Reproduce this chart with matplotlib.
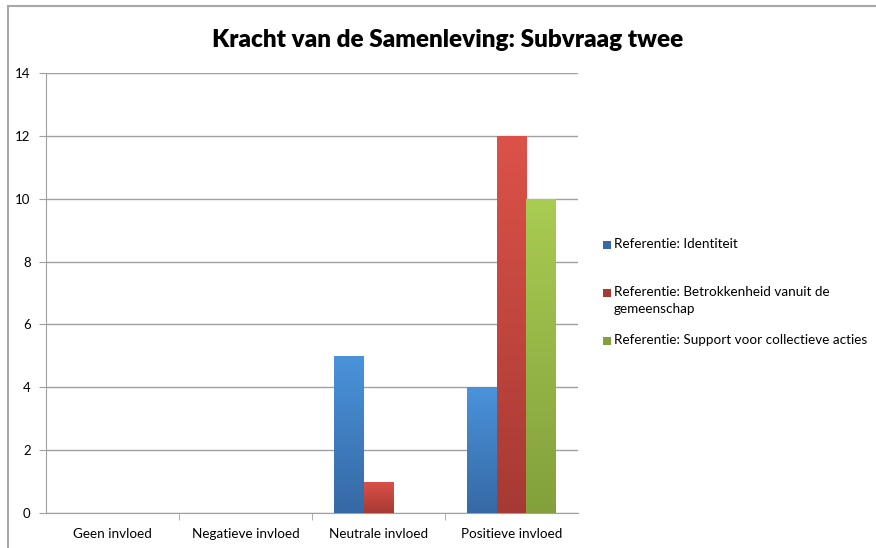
import matplotlib
matplotlib.use("Agg")
import matplotlib.pyplot as plt
import matplotlib.patches as patches
from matplotlib.colors import LinearSegmentedColormap
from matplotlib.lines import Line2D
import numpy as np

title = "Kracht van de Samenleving: Subvraag twee"
categories = ["Geen invloed", "Negatieve invloed", "Neutrale invloed", "Positieve invloed"]
series_names = ["Referentie: Identiteit",
                "Referentie: Betrokkenheid vanuit de\ngemeenschap",
                "Referentie: Support voor collectieve acties"]
identiteit = [0, 0, 5, 4]
betrokkenheid = [0, 0, 1, 12]
support = [0, 0, 0, 10]
yticks = [0, 2, 4, 6, 8, 10, 12, 14]

# gradient (top colour, bottom colour) per series
grads = [("#4a93db", "#3669a5"), ("#dc5249", "#a63a33"), ("#a9cc52", "#83a03c")]

plt.rcParams['font.family'] = ['Lato', 'DejaVu Sans']

fig = plt.figure(figsize=(8.76, 5.48), dpi=100)
ax = fig.add_axes([46/876, 1 - 513/548, 532/876, 440/548])

W = 0.225
vals = [identiteit, betrokkenheid, support]
x = np.arange(len(categories))
for i, (v, (ctop, cbot)) in enumerate(zip(vals, grads)):
    cmap = LinearSegmentedColormap.from_list("g%d" % i, [cbot, ctop])
    for xi, h in zip(x, v):
        if h <= 0:
            continue
        left = xi + (i - 1) * W - W / 2
        rect = patches.Rectangle((left, 0), W, h, facecolor="none", edgecolor="none")
        ax.add_patch(rect)
        grad = np.linspace(0, 1, 256).reshape(-1, 1)
        im = ax.imshow(grad, cmap=cmap, origin="lower", aspect="auto",
                       extent=[left, left + W, 0, h], zorder=3)
        im.set_clip_path(rect)

ax.set_xlim(-0.5, 3.5)
ax.set_ylim(0, 14)
ax.set_yticks(yticks)
ax.set_yticklabels([str(t) for t in yticks], fontsize=9.5)
ax.yaxis.grid(True, color="#a0a0a0", linewidth=1.0, zorder=0)
ax.set_axisbelow(True)

ax.set_xticks(x)
ax.set_xticklabels(categories, fontsize=9.7)
ax.tick_params(axis="x", length=0, pad=11)
ax.set_xticks(np.arange(0.5, 3.5, 1.0), minor=True)
ax.tick_params(axis="x", which="minor", length=5, color="#a0a0a0", direction="out")
ax.tick_params(axis="y", length=5, color="#a0a0a0", direction="out", pad=6)

for s in ["top", "right"]:
    ax.spines[s].set_visible(False)
ax.spines["left"].set_color("#a0a0a0")
ax.spines["bottom"].set_color("#a0a0a0")

fig.text(448/876, 1 - 40/548, title, ha="center", va="center",
         fontsize=17.5, fontweight="heavy")

# legend, placed by hand
leg_y = [245, 293, 341]
for (ctop, cbot), name, yy in zip(grads, series_names, leg_y):
    fig.patches.append(patches.Rectangle((603/876, 1 - (yy + 4)/548), 8/876, 8/548,
                                         transform=fig.transFigure, facecolor=cbot,
                                         edgecolor="none"))
    fig.text(614/876, 1 - (yy - 7)/548, name, ha="left", va="top", fontsize=9.7,
             linespacing=1.5)

# chart frame (top and left edge)
fig.add_artist(Line2D([7.5/876, 7.5/876], [0, 1 - 5.5/548], color="#a8a8a8", linewidth=1.5))
fig.add_artist(Line2D([7.5/876, 1], [1 - 5.5/548, 1 - 5.5/548], color="#a8a8a8", linewidth=1.5))

fig.savefig("out.png", dpi=100)
